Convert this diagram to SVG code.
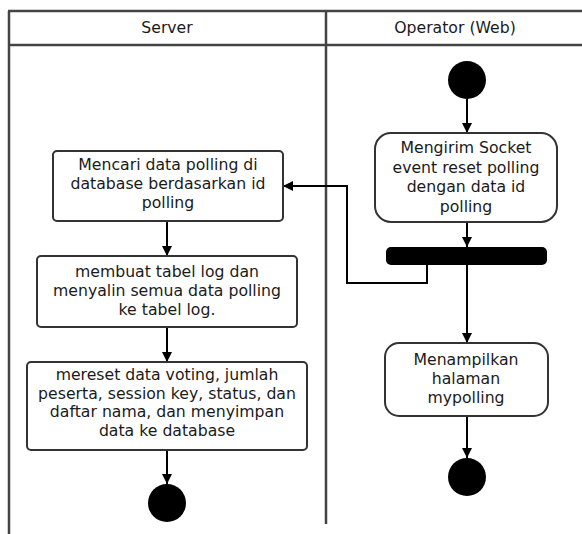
<svg xmlns="http://www.w3.org/2000/svg" width="582" height="534" viewBox="0 0 582 534">
<defs>
<style>
.t{font-family:"DejaVu Sans",Verdana,sans-serif;font-size:15.7px;fill:#1a1a1a;text-anchor:middle}
.box{fill:#fff;stroke:#333;stroke-width:2}
.lane{stroke:#444;stroke-width:2.5;fill:none}
.c{stroke:#000;stroke-width:2;fill:none}
</style>
<marker id="ah" viewBox="0 0 10 10" refX="10" refY="5" markerWidth="10" markerHeight="10" markerUnits="userSpaceOnUse" orient="auto">
<path d="M0,0 L10,5 L0,10 z" fill="#000"/>
</marker>
</defs>
<rect width="582" height="534" fill="#fff"/>
<g id="lanes">
<line class="lane" x1="8" y1="11" x2="582" y2="11"/>
<line class="lane" x1="8" y1="45" x2="582" y2="45"/>
<line class="lane" x1="9" y1="11" x2="9" y2="534"/>
<line class="lane" x1="326" y1="11" x2="326" y2="524"/>
<text class="t" x="167" y="33">Server</text>
<text class="t" x="455" y="33">Operator (Web)</text>
</g>
<g id="connectors">
<line class="c" x1="467" y1="99" x2="467" y2="133" marker-end="url(#ah)"/>
<line class="c" x1="467" y1="222" x2="467" y2="247" marker-end="url(#ah)"/>
<polyline class="c" points="427,265 427,283 347,283 347,186 283,186" marker-end="url(#ah)"/>
<line class="c" x1="467" y1="265" x2="467" y2="343" marker-end="url(#ah)"/>
<line class="c" x1="467" y1="416" x2="467" y2="458" marker-end="url(#ah)"/>
<line class="c" x1="167" y1="221" x2="167" y2="256" marker-end="url(#ah)"/>
<line class="c" x1="167" y1="327" x2="167" y2="362" marker-end="url(#ah)"/>
<line class="c" x1="167" y1="450" x2="167" y2="484" marker-end="url(#ah)"/>
</g>
<g id="start"><circle cx="467" cy="80" r="19" fill="#000"/></g>
<g id="kirim">
<rect class="box" x="375" y="133" width="182" height="89" rx="16"/>
<text class="t" x="466" y="153">Mengirim Socket</text>
<text class="t" x="466" y="173">event reset polling</text>
<text class="t" x="466" y="192">dengan data id</text>
<text class="t" x="466" y="212">polling</text>
</g>
<g id="fork"><rect x="386" y="247" width="161" height="18" rx="5" fill="#000"/></g>
<g id="tampil">
<rect class="box" x="385" y="343" width="163" height="73" rx="14"/>
<text class="t" x="466" y="365">Menampilkan</text>
<text class="t" x="466" y="384">halaman</text>
<text class="t" x="466" y="403">mypolling</text>
</g>
<g id="end2"><circle cx="467" cy="477" r="19" fill="#000"/></g>
<g id="cari">
<rect class="box" x="53" y="151" width="230" height="70" rx="4"/>
<text class="t" x="168" y="170">Mencari data polling di</text>
<text class="t" x="168" y="189">database berdasarkan id</text>
<text class="t" x="168" y="208">polling</text>
</g>
<g id="log">
<rect class="box" x="37" y="256" width="260" height="71" rx="4"/>
<text class="t" x="167" y="277">membuat tabel log dan</text>
<text class="t" x="167" y="296">menyalin semua data polling</text>
<text class="t" x="167" y="315">ke tabel log.</text>
</g>
<g id="reset">
<rect class="box" x="27" y="362" width="280" height="88" rx="4"/>
<text class="t" x="167" y="380">mereset data voting, jumlah</text>
<text class="t" x="167" y="399">peserta, session key, status, dan</text>
<text class="t" x="167" y="417">daftar nama, dan menyimpan</text>
<text class="t" x="167" y="436">data ke database</text>
</g>
<g id="end1"><circle cx="167" cy="503" r="19" fill="#000"/></g>
</svg>
